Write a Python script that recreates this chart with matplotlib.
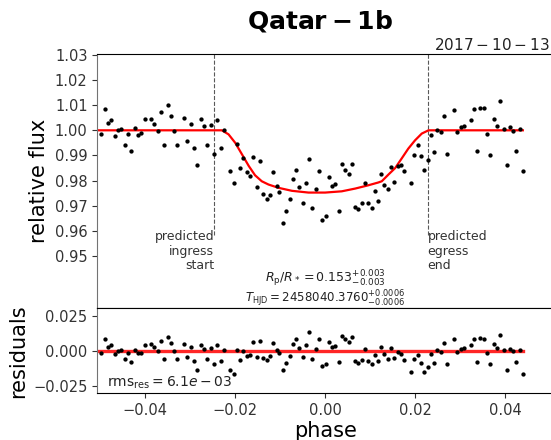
import numpy as np
import matplotlib
matplotlib.use("Agg")
import matplotlib.pyplot as plt

# ---- data ----
phase = [-0.04978, -0.04896, -0.04829, -0.04756, -0.04682, -0.04607, -0.04533, -0.04460,
         -0.04384, -0.04311, -0.04238, -0.04162, -0.04089, -0.04016, -0.03873, -0.03800,
         -0.03727, -0.03651, -0.03578, -0.03504, -0.03429, -0.03356, -0.03289, -0.03140,
         -0.03067, -0.02993, -0.02918, -0.02844, -0.02771, -0.02696, -0.02622, -0.02549,
         -0.02473, -0.02400, -0.02327, -0.02251, -0.02111, -0.02038, -0.01962, -0.01896,
         -0.01822, -0.01749, -0.01673, -0.01600, -0.01527, -0.01451, -0.01378, -0.01304,
         -0.01229, -0.01156, -0.01082, -0.01016, -0.00940, -0.00867, -0.00793, -0.00718,
         -0.00644, -0.00571, -0.00496, -0.00422, -0.00349, -0.00282, -0.00207, -0.00133,
         -0.00060, 0.00016, 0.00089, 0.00156, 0.00229, 0.00304, 0.00378, 0.00451,
         0.00527, 0.00593, 0.00667, 0.00740, 0.00816, 0.00889, 0.00962, 0.01038,
         0.01111, 0.01178, 0.01244, 0.01318, 0.01393, 0.01467, 0.01540, 0.01616,
         0.01689, 0.01762, 0.01911, 0.01984, 0.02060, 0.02133, 0.02207, 0.02282,
         0.02349, 0.02422, 0.02496, 0.02571, 0.02644, 0.02718, 0.02867, 0.02940,
         0.03016, 0.03089, 0.03238, 0.03304, 0.03378, 0.03451, 0.03527, 0.03600,
         0.03673, 0.03749, 0.03822, 0.03896, 0.03971, 0.04044, 0.04104, 0.04178,
         0.04251, 0.04327, 0.04400]
flux = [0.99841, 1.00835, 1.00306, 1.00425, 0.99761, 1.00012, 1.00040, 0.99431,
        0.99853, 0.99193, 1.00091, 0.99829, 0.99881, 1.00437, 1.00465, 1.00250,
        0.99972, 1.00728, 0.99431, 1.00994, 1.00569, 0.99960, 0.99416, 1.00489,
        0.99575, 1.00266, 0.99312, 0.98636, 1.00437, 1.00159, 0.99431, 1.00227,
        0.99074, 1.00410, 0.99312, 1.00012, 0.98398, 0.97920, 0.99455, 0.98501,
        0.98915, 0.98358, 0.98183, 0.98938, 0.97746, 0.98767, 0.97455, 0.97245,
        0.97427, 0.98358, 0.97785, 0.97523, 0.96302, 0.96779, 0.97256, 0.98080,
        0.98437, 0.97761, 0.97109, 0.97920, 0.98875, 0.96911, 0.97654, 0.98398,
        0.96410, 0.96569, 0.98143, 0.97785, 0.97865, 0.96791, 0.98648, 0.98410,
        0.98262, 0.98648, 0.96950, 0.96847, 0.97109, 0.97893, 0.97086, 0.96887,
        0.97587, 0.97189, 0.98262, 0.97841, 0.97654, 0.98541, 0.97960, 0.98581,
        0.98608, 0.98370, 0.97920, 0.99018, 0.99431, 0.98966, 0.98421, 0.98835,
        0.99813, 0.99153, 1.00028, 0.99932, 1.00584, 0.99058, 1.00823, 0.99920,
        1.00119, 1.00171, 1.00410, 1.00847, 0.99177, 1.00903, 1.00875, 0.99869,
        0.99034, 1.00465, 1.00171, 1.01153, 1.00068, 0.98636, 1.00131, 0.99980,
        0.99177, 1.00060, 0.98370]

model_phase = [-0.0507, -0.0230, -0.0215, -0.0200, -0.0185, -0.0170, -0.0156, -0.0141,
               -0.0126, -0.0104, -0.0074, -0.0037, 0.0000, 0.0037, 0.0067, 0.0096,
               0.0118, 0.0126, 0.0141, 0.0156, 0.0170, 0.0185, 0.0200, 0.0215,
               0.0230, 0.0440]
model_flux = [1.0000, 1.0000, 0.9984, 0.9950, 0.9904, 0.9858, 0.9821, 0.9797,
              0.9784, 0.9771, 0.9759, 0.9752, 0.9752, 0.9757, 0.9768, 0.9781,
              0.9792, 0.9797, 0.9824, 0.9850, 0.9887, 0.9927, 0.9960, 0.9987,
              1.0000, 1.0000]

ingress_phase = -0.0247
egress_phase = 0.0228
xlim = (-0.0507, 0.0507)

# residuals: observed minus the plotted model
phase_a = np.array(phase)
resid = np.array(flux) - np.interp(phase_a, model_phase, model_flux)

# ---- figure ----
fig = plt.figure(figsize=(5.51, 4.40), dpi=100)
ax1 = fig.add_axes([0.1766, 0.2993, 0.8270, 0.5780])
ax2 = fig.add_axes([0.1766, 0.1061, 0.8270, 0.1932], sharex=ax1)

tick_col = '#333333'
for ax in (ax1, ax2):
    ax.tick_params(labelsize=10.5, colors=tick_col, length=3.5, width=0.8)
    ax.spines['left'].set_color('0.45')
    ax.spines['right'].set_visible(False)

# main panel
ax1.plot(model_phase, model_flux, color='red', lw=1.6, zorder=2)
ax1.plot(phase, flux, 'o', color='black', ms=3.1, mew=0, zorder=3)
for xp in (ingress_phase, egress_phase):
    ax1.plot([xp, xp], [0.9583, 1.0305], ls='--', color='0.35', lw=0.8, zorder=1)
ax1.text(ingress_phase, 0.9602, 'predicted\ningress\nstart', ha='right', va='top',
         fontsize=9, color='#333333', linespacing=1.15)
ax1.text(egress_phase, 0.9602, 'predicted\negress\nend', ha='left', va='top',
         fontsize=9, color='#333333', linespacing=1.15)
ax1.text(0.0, 0.9408, r'$R_{\mathrm{p}}/R_* = 0.153^{+0.003}_{-0.003}$',
         ha='center', va='center', fontsize=9, color='#222222')
ax1.text(0.0, 0.9330, r'$T_{\mathrm{HJD}} = 2458040.3760^{+0.0006}_{-0.0006}$',
         ha='center', va='center', fontsize=8.5, color='#222222')
ax1.set_ylim(0.9291, 1.0304)
ax1.set_yticks([0.95, 0.96, 0.97, 0.98, 0.99, 1.00, 1.01, 1.02, 1.03])
ax1.set_yticklabels(['0.95', '0.96', '0.97', '0.98', '0.99', '1.00', '1.01', '1.02', '1.03'])
ax1.set_xlim(*xlim)
ax1.tick_params(axis='x', labelbottom=False)
ax1.set_ylabel('relative flux', fontsize=15)

# residual panel
ax2.plot([model_phase[0], model_phase[-1]], [0, 0], color='red', lw=2.4, alpha=0.85, zorder=2)
ax2.plot(phase, resid, 'o', color='black', ms=3.1, mew=0, zorder=3)
ax2.set_ylim(-0.0302, 0.0303)
ax2.set_yticks([-0.025, 0.0, 0.025])
ax2.set_yticklabels(['\u22120.025', '0.000', '0.025'])
ax2.set_xticks([-0.04, -0.02, 0.0, 0.02, 0.04])
ax2.set_xticklabels(['\u22120.04', '\u22120.02', '0.00', '0.02', '0.04'])
ax2.set_xlim(*xlim)
ax2.text(-0.0485, -0.0228, r'$\mathrm{rms}_{\mathrm{res}} = 6.1e-03$', ha='left', va='center',
         fontsize=10, color='#222222')
ax2.set_ylabel('residuals', fontsize=15)
ax2.set_xlabel('phase', fontsize=15, labelpad=2)

fig.text(320 / 551, 1 - 21 / 440, r'$\mathbf{Qatar-1b}$', ha='center', va='center', fontsize=18)
fig.text(550 / 551, 1 - 45 / 440, r'$2017-10-13$', ha='right', va='center', fontsize=11,
         color='#222222')

fig.savefig('out.png', dpi=100)
